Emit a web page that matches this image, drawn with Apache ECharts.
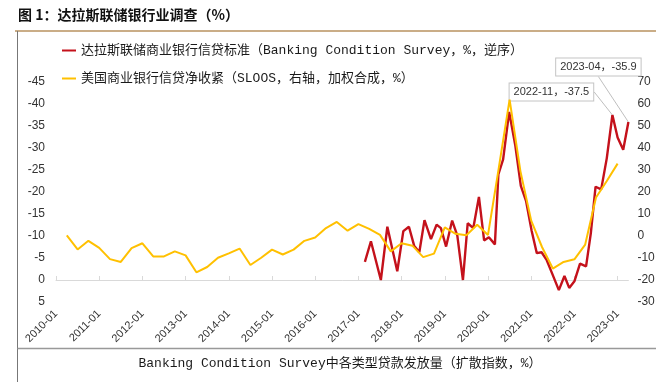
<!DOCTYPE html>
<html><head><meta charset="utf-8">
<script src="https://cdn.jsdelivr.net/npm/echarts@6/dist/echarts.min.js"></script>
<style>html,body{margin:0;padding:0;background:#fff}#c{width:656px;height:382px}</style>
</head><body><div id="c"></div>
<script>
const chartTitle = '图 1：达拉斯联储银行业调查（%）';
const subTitle = 'Banking Condition Survey中各类型贷款发放量（扩散指数，%）';
const nameRed = '达拉斯联储商业银行信贷标准（Banking Condition Survey，%，逆序）';
const nameYellow = '美国商业银行信贷净收紧（SLOOS，右轴，加权合成，%）';
const yearTicks = [2010,2011,2012,2013,2014,2015,2016,2017,2018,2019,2020,2021,2022,2023];

// Dallas Fed Banking Conditions Survey (decimal year), left axis, inverted
const redDates = [2017.15,2017.29,2017.52,2017.67,2017.90,2018.04,2018.17,2018.29,2018.41,2018.53,2018.68,2018.81,2018.91,
  2019.03,2019.17,2019.29,2019.42,2019.53,2019.66,2019.79,2019.91,2020.02,2020.16,2020.24,2020.35,2020.49,2020.63,2020.76,
  2020.88,2021.01,2021.13,2021.24,2021.36,2021.50,2021.64,2021.77,2021.88,2022.00,2022.13,2022.27,2022.38,2022.49,2022.62,
  2022.75,2022.88,2023.00,2023.13,2023.25];
const redValues = [-4.1,-8.8,0.0,-12.1,-2.0,-11.1,-12.1,-7.8,-6.3,-13.6,-9.3,-12.6,-11.8,
  -7.6,-13.5,-10.1,0.0,-12.9,-11.8,-18.9,-9.0,-9.7,-8.1,-24.0,-27.4,-38.2,-30.7,-21.4,
  -18.0,-11.2,-6.1,-6.3,-4.5,-1.1,2.3,-0.9,1.8,0.3,-3.7,-3.1,-10.6,-21.2,-20.6,
  -27.7,-37.5,-32.4,-29.6,-35.9];

// SLOOS quarterly (decimal year), right axis
const yellowDates = [2010.25,2010.50,2010.75,2011.00,2011.25,2011.50,2011.75,2012.00,2012.25,2012.50,2012.75,2013.00,
  2013.25,2013.50,2013.75,2014.00,2014.25,2014.50,2014.75,2015.00,2015.25,2015.50,2015.75,2016.00,2016.25,2016.50,2016.75,
  2017.00,2017.25,2017.50,2017.75,2018.00,2018.25,2018.50,2018.75,2019.00,2019.25,2019.50,2019.75,2020.00,2020.25,2020.50,
  2020.75,2021.00,2021.25,2021.50,2021.75,2022.00,2022.25,2022.50,2022.75,2023.00];
const yellowValues = [0.3,-6.1,-2.2,-5.4,-10.5,-11.8,-5.5,-3.3,-9.3,-9.3,-7.0,-8.8,
  -16.5,-14.1,-9.9,-7.9,-5.7,-13.2,-9.9,-6.2,-8.4,-6.2,-2.2,-0.7,3.6,6.4,2.4,
  5.4,3.2,0.5,-7.0,-3.3,-4.4,-9.6,-8.0,3.9,1.0,0.3,5.1,0.5,31,62,
  29.5,7,-5,-14.8,-11.8,-10.6,-3.9,17.5,25,32.9];

const annoIndex = [44, 47];
const annoText = ['2022-11', '2023-04'];
const annoOffset = [[-61, -23], [-30, -55]];

const monoFont = '"Liberation Mono", "Noto Sans CJK SC", monospace';
const sansFont = '"Liberation Sans", "Noto Sans CJK SC", sans-serif';

const redData = redDates.map((d, i) => {
  const k = annoIndex.indexOf(i);
  if (k < 0) return [d, redValues[i]];
  return {
    value: [d, redValues[i]],
    label: {
      show: true,
      position: 'inside',
      formatter: annoText[k] + '，' + redValues[i].toFixed(1),
      fontFamily: sansFont, fontSize: 11, color: '#333',
      backgroundColor: '#fff', borderColor: '#c4c4c4', borderWidth: 1, padding: [3, 4]
    }
  };
});
const yellowData = yellowDates.map((d, i) => [d, yellowValues[i]]);

const chart = echarts.init(document.getElementById('c'), null, {renderer: 'canvas'});
chart.setOption({
  animation: false,
  backgroundColor: '#fff',
  textStyle: {fontFamily: sansFont},
  grid: {left: 56, right: 27.6, top: 82, bottom: 80, outerBoundsMode: 'none'},
  legend: {
    orient: 'vertical', left: 57, top: 38.5, itemWidth: 14, itemHeight: 2, itemGap: 14,
    icon: 'rect',
    textStyle: {fontFamily: monoFont, fontSize: 13, color: '#1a1a1a', lineHeight: 14},
    data: [nameRed, nameYellow]
  },
  xAxis: [
    {
      type: 'value', min: 2010, max: 2023.25, interval: 1, position: 'bottom',
      axisLine: {onZero: true, onZeroAxisIndex: 0, lineStyle: {color: '#d9d9d9', width: 1}},
      axisTick: {show: true, inside: true, length: 4, customValues: yearTicks, lineStyle: {color: '#d9d9d9'}},
      axisLabel: {show: false},
      splitLine: {show: false}
    },
    {
      type: 'value', min: 2010, max: 2023.25, interval: 1, position: 'bottom',
      axisLine: {show: false, onZero: false},
      axisTick: {show: false},
      axisLabel: {show: true, rotate: 45, margin: 10, customValues: yearTicks,
        formatter: v => v + '-01', fontSize: 11, color: '#333', fontFamily: sansFont},
      splitLine: {show: false}
    }
  ],
  yAxis: [
    {
      type: 'value', min: -45, max: 5, interval: 5, inverse: true, position: 'left',
      axisLine: {show: false}, axisTick: {show: false}, splitLine: {show: false},
      axisLabel: {fontSize: 12, color: '#333', margin: 11}
    },
    {
      type: 'value', min: -30, max: 70, interval: 10, position: 'right',
      axisLine: {show: false}, axisTick: {show: false}, splitLine: {show: false},
      axisLabel: {fontSize: 12, color: '#333', margin: 9}
    }
  ],
  series: [
    {
      name: nameRed, type: 'line', xAxisIndex: 0, yAxisIndex: 0,
      data: redData, showSymbol: true, symbol: 'circle', symbolSize: 0.1,
      lineStyle: {color: '#c4111b', width: 2.4}, itemStyle: {color: '#c4111b'},
      label: {show: false},
      labelLine: {show: true, lineStyle: {color: '#bfbfbf', width: 1}},
      labelLayout: p => {
        const k = annoIndex.indexOf(p.dataIndex);
        if (k < 0) return {};
        return {dx: annoOffset[k][0], dy: annoOffset[k][1]};
      },
      z: 3
    },
    {
      name: nameYellow, type: 'line', xAxisIndex: 0, yAxisIndex: 1,
      data: yellowData, showSymbol: false,
      lineStyle: {color: '#ffc000', width: 2}, itemStyle: {color: '#ffc000'},
      z: 4
    }
  ],
  graphic: [
    {type: 'text', left: 18, top: 8, style: {text: chartTitle, fontSize: 14, fontWeight: 'bold', fontFamily: '"Noto Sans CJK SC", sans-serif', fill: '#111'}},
    {type: 'line', shape: {x1: 15, y1: 31, x2: 656, y2: 31}, style: {stroke: '#b8925f', lineWidth: 1.5}},
    {type: 'line', shape: {x1: 17.5, y1: 31, x2: 17.5, y2: 382}, style: {stroke: '#777', lineWidth: 1}},
    {type: 'line', shape: {x1: 17.5, y1: 348.5, x2: 656, y2: 348.5}, style: {stroke: '#999', lineWidth: 1.5}},
    {type: 'text', x: 340, y: 364, style: {text: subTitle, fontSize: 13, fontFamily: monoFont, fill: '#1a1a1a', align: 'center', verticalAlign: 'middle'}}
  ]
});
</script></body></html>
